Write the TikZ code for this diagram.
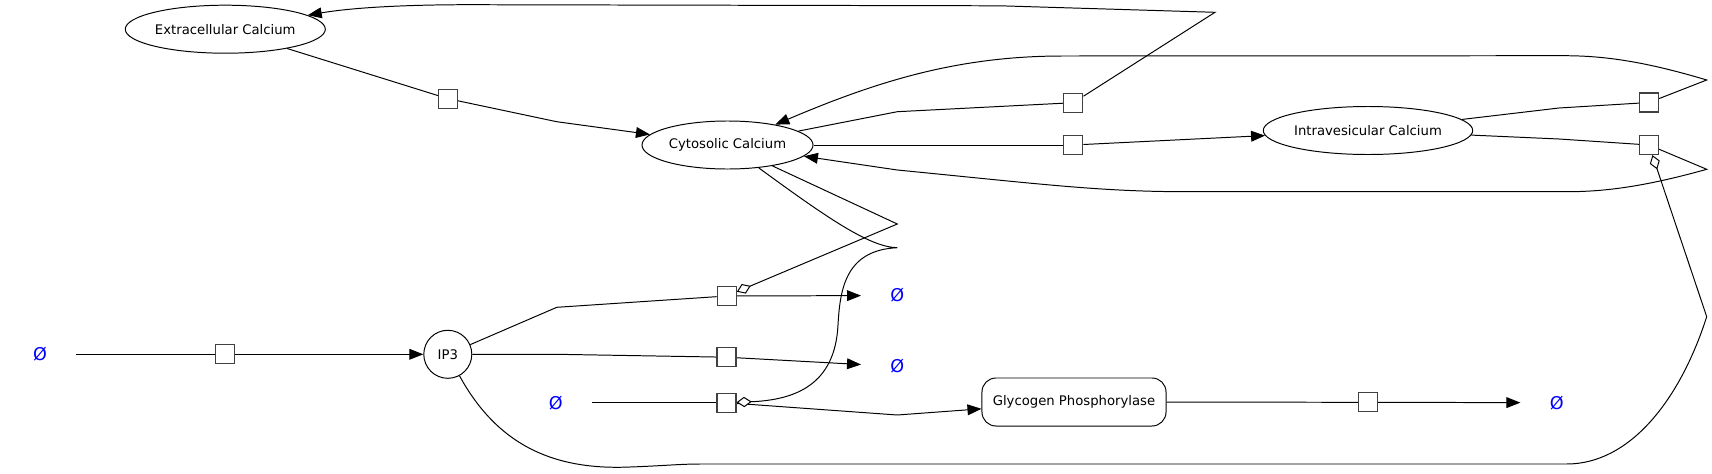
\documentclass[tikz,border=0pt]{standalone}
\usepackage{fontspec}
\setmainfont{DejaVu Sans}
\usetikzlibrary{shapes.geometric,arrows.meta}
\pgfdeclarelayer{background}
\pgfsetlayers{background,main}
\definecolor{boxgray}{gray}{0.25}
\tikzset{
 species/.style={draw, ellipse, inner sep=0pt, minimum height=1.2cm, font=\fontsize{9.4}{11}\selectfont, line width=0.7pt},
 rxn/.style={draw=boxgray, fill=white, rectangle, minimum size=0.475cm, inner sep=0pt, line width=0.9pt},
 emptyset/.style={rectangle, minimum width=1.8cm, minimum height=0.9cm, inner sep=0pt, text=blue, font=\fontsize{12.5}{14}\selectfont},
 conn/.style={line width=0.7pt},
 prod/.style={conn, -{Triangle[length=0.35cm,width=0.27cm]}},
 modif/.style={conn, -{Diamond[length=0.375cm,width=0.26cm,fill=white]}},
}
\begin{document}
\begin{tikzpicture}[x=0.025cm, y=-0.025cm]
\useasboundingbox (0,0) rectangle (1712,474);
% species
\node[species, minimum width=5cm] (ext) at (225.3,29.2) {Extracellular Calcium};
\node[species, minimum width=4.275cm] (cyt) at (727.5,145) {Cytosolic Calcium};
\node[species, minimum width=5.235cm] (intra) at (1368,130.5) {Intravesicular Calcium};
\node[draw, circle, minimum size=1.2cm, inner sep=0pt, line width=0.7pt, font=\fontsize{9.4}{11}\selectfont] (ip3) at (447.8,354.3) {IP3};
\node[draw, rectangle, rounded corners=0.35cm, minimum width=4.6cm, minimum height=1.2cm, inner sep=0pt, line width=0.7pt, font=\fontsize{9.4}{11}\selectfont] (glyc) at (1074,402) {Glycogen Phosphorylase};
% empty sets
\node[emptyset] (e1) at (40,354.3) {Ø};
\node[emptyset] (e2) at (555.7,402.7) {Ø};
\node[emptyset] (e3) at (897.3,295.5) {Ø};
\node[emptyset] (e4) at (897.3,366.5) {Ø};
\node[emptyset] (e5) at (1556.7,402.7) {Ø};
% reaction boxes
\node[rxn] (r1) at (448,98.7) {};
\node[rxn] (r2) at (1073.3,102.7) {};
\node[rxn] (r3) at (1073.3,145) {};
\node[rxn] (r4) at (1649,102.5) {};
\node[rxn] (r5) at (1649,145) {};
\node[rxn] (r6) at (225,354.3) {};
\node[rxn] (r7) at (726.7,296) {};
\node[rxn] (r8) at (726.5,357.2) {};
\node[rxn] (r9) at (726.5,402.7) {};
\node[rxn] (r10) at (1368,402.3) {};
\begin{pgfonlayer}{background}
% extracellular -> cytosolic
\draw[conn] (ext) -- (r1);
\draw[prod] (r1) -- (556.7,121.7) -- (cyt);
% cytosolic -> extracellular
\draw[conn] (cyt) -- (897.3,111.7) -- (r2);
\draw[prod] (r2) -- (1215,12.3) -- (1000,5.8) -- (470,4.7) .. controls (400,4.7) and (350,8) .. (ext);
% cytosolic -> intravesicular
\draw[conn] (cyt) -- (r3);
\draw[prod] (r3) -- (intra);
% intravesicular -> cytosolic (top)
\draw[conn] (intra) -- (1559,108) -- (r4);
\draw[prod] (r4) -- (1706.7,80) .. controls (1640,60) and (1600,55.7) .. (1563,55.7) -- (1063,56) .. controls (960,56) and (880,80) .. (cyt);
% intravesicular -> cytosolic (bottom)
\draw[conn] (intra) -- (1559,139) -- (r5);
\draw[prod] (r5) -- (1706.7,169.3) .. controls (1640,188) and (1600,191.7) .. (1566.7,191.7) -- (1186.7,191.7) .. controls (1100,191.7) and (1040,184) .. (897.3,170) -- (cyt);
% IP3 production
\draw[conn] (e1) -- (r6);
\draw[prod] (r6) -- (ip3);
% IP3 degradation
\draw[conn] (ip3) -- (556.8,307.3) -- (r7);
\draw[prod] (r7) -- (e3);
\draw[conn] (ip3) -- (556.8,354.3) -- (r8);
\draw[prod] (r8) -- (e4);
% glycogen phosphorylase
\draw[conn] (e2) -- (r9);
\draw[prod] (r9) -- (897.3,415) -- (glyc);
\draw[conn] (glyc) -- (r10);
\draw[prod] (r10) -- (e5);
% modifiers
\draw[modif] (cyt) -- (897.3,224) -- (r7);
\draw[modif] (cyt) .. controls (830,220) and (870,247) .. (897.3,247.7) .. controls (845,250) and (840,290) .. (838,325) .. controls (835,385) and (795,400) .. (r9);
\draw[modif] (ip3) .. controls (500,450) and (560,470) .. (630,467) .. controls (660,466) and (680,464) .. (700,464) -- (1566.7,464) .. controls (1630,464) and (1680,400) .. (1706.7,316.7) -- (r5);
\end{pgfonlayer}
\end{tikzpicture}
\end{document}
